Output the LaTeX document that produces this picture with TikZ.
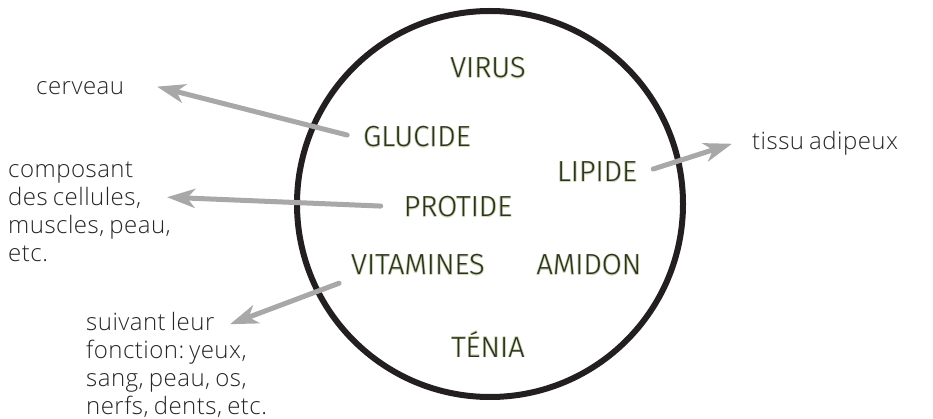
\documentclass[tikz,border=0pt]{standalone}
\usepackage{fontspec}
\IfFontExistsTF{Open Sans Light}{\setmainfont{Open Sans Light}[LetterSpace=2,WordSpace=0.75]}{\setmainfont{Open Sans}[LetterSpace=2,WordSpace=0.75]}
\IfFontExistsTF{Fira Sans Book}{\newfontfamily\labfont{Fira Sans Book}}{\newfontfamily\labfont{Fira Sans Light}}
\usetikzlibrary{arrows.meta,calc}
\definecolor{ringcol}{HTML}{231F20}
\definecolor{arrcol}{HTML}{A8A8A8}
\definecolor{notecol}{HTML}{262626}
\definecolor{labcol}{HTML}{2C3122}
\definecolor{halocol}{HTML}{CCD9B4}
\newcommand\hcopy[3]{\rlap{\kern#1\raise#2\hbox{\color{halocol}#3}}}
\newcommand\halotext[1]{\leavevmode\hcopy{.7pt}{0pt}{#1}\hcopy{-.7pt}{0pt}{#1}\hcopy{0pt}{.7pt}{#1}\hcopy{0pt}{-.7pt}{#1}\hcopy{.5pt}{.5pt}{#1}\hcopy{-.5pt}{.5pt}{#1}\hcopy{.5pt}{-.5pt}{#1}\hcopy{-.5pt}{-.5pt}{#1}{\color{labcol}#1}}
\frenchspacing
\begin{document}
\begin{tikzpicture}[x=1pt,y=-1pt,
  lab/.style={inner sep=0pt, anchor=base, font=\labfont\fontsize{29}{34}\selectfont},
  note/.style={inner sep=0pt, anchor=base west, text=notecol, font=\fontsize{24}{28}\selectfont},
  pointer/.style={draw=arrcol, line width=5pt, line cap=round, -{Stealth[length=28pt,width=19pt,inset=8pt]}}]
\useasboundingbox (0,0) rectangle (933,419);
\node[draw=ringcol, line width=6pt, circle, minimum size=386pt, inner sep=0pt] (ring) at (490,204) {};
% labels inside the ring
\node[lab] (virus) at (488,78) {\halotext{VIRUS}};
\node[lab] (glucide) at (417,147) {\halotext{GLUCIDE}};
\node[lab] (lipide) at (597,182) {\halotext{LIPIDE}};
\node[lab] (protide) at (458,217) {\halotext{PROTIDE}};
\node[lab] (vitamines) at (418,275) {\halotext{VITAMINES}};
\node[lab] (amidon) at (589,275) {\halotext{AMIDON}};
\node[lab] (tenia) at (488,357) {\halotext{TÉNIA}};
% notes outside
\node[note] (cerveau) at (36,95) {cerveau};
\node[note] (tissu) at (752,150) {tissu adipeux};
\node[note] (protnote) at (8,178) {\begin{tabular}[t]{@{}l@{}}composant\\des cellules,\\muscles, peau,\\etc.\end{tabular}};
\node[note] (vitnote) at (86,330) {\begin{tabular}[t]{@{}l@{}}suivant leur\\fonction: yeux,\\sang, peau, os,\\nerfs, dents, etc.\end{tabular}};
% pointers
\draw[pointer] ($(glucide.west)+(-16,-2)$) -- ($(cerveau.west)+(121,-2)$);
\draw[pointer] ($(protide.west)+(-23,-1)$) -- ($(protnote.north west)+(159,39)$);
\draw[pointer] ($(lipide.east)+(16,-3)$) -- ($(tissu.west)+(-20,0)$);
\draw[pointer] ($(vitamines.south west)+(-12,7)$) -- ($(vitnote.north west)+(144,14)$);
\end{tikzpicture}
\end{document}
